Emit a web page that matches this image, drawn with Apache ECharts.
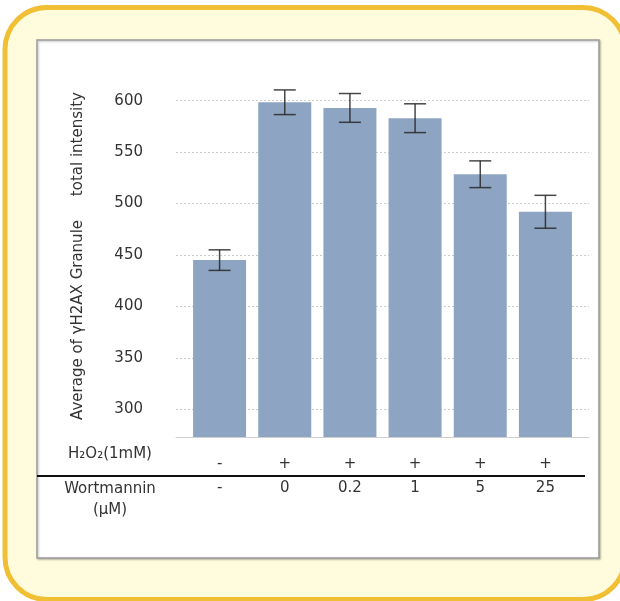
<!DOCTYPE html>
<html><head><meta charset="utf-8">
<script src="https://cdn.jsdelivr.net/npm/echarts@6/dist/echarts.min.js"></script>
<style>html,body{margin:0;padding:0;background:#fff}#c{width:620px;height:601px}</style>
</head><body><div id="c"></div>
<script>
const h2o2Labels = ['-', '+', '+', '+', '+', '+'];
const wortLabels = ['-', '0', '0.2', '1', '5', '25'];
const meanValues = [445, 598.5, 593, 583, 528.5, 492];
const errValues = [10, 12, 14, 14, 13, 16];
const yTicks = [300, 350, 400, 450, 500, 550, 600];
const yTitle = 'Average of \u03b3H2AX Granule     total intensity';

const FONT = 'DejaVu Sans';
const chart = echarts.init(document.getElementById('c'), null, {renderer: 'canvas'});
const cats = h2o2Labels.map((h, i) => h + '\n' + wortLabels[i]);
const errData = meanValues.map((m, i) => [i, m - errValues[i], m + errValues[i]]);

chart.setOption({
  animation: false,
  textStyle: {fontFamily: FONT},
  graphic: [
    {type: 'rect', z: -10, shape: {x: 5, y: 7.5, width: 620, height: 592, r: 42},
     style: {fill: '#FFFCDD', stroke: '#F0BF33', lineWidth: 5}},
    {type: 'rect', z: -9, shape: {x: 37, y: 40, width: 562, height: 518},
     style: {fill: '#ffffff', stroke: '#9c9c9c', lineWidth: 1.5, shadowBlur: 2, shadowOffsetX: 1, shadowOffsetY: 1, shadowColor: 'rgba(0,0,0,0.25)'}},
    {type: 'line', z: 5, shape: {x1: 37, y1: 476, x2: 585, y2: 476},
     style: {stroke: '#111', lineWidth: 2}},
    {type: 'text', z: 5, x: 110, y: 454,
     style: {text: 'H\u2082O\u2082(1mM)', font: '15px "DejaVu Sans"', fill: '#333', align: 'center', verticalAlign: 'middle'}},
    {type: 'text', z: 5, x: 110, y: 500,
     style: {text: 'Wortmannin\n(\u03bcM)', font: '15px "DejaVu Sans"', fill: '#333', align: 'center', verticalAlign: 'middle', lineHeight: 21}}
  ],
  grid: [
    {left: 176, right: 31, top: 75, height: 362},
    {left: 187, width: 391, top: 75, height: 362}
  ],
  xAxis: [
    {type: 'value', gridIndex: 0, min: 0, max: 1, show: true,
     axisLine: {show: true, onZero: false, lineStyle: {color: '#cfcfcf', width: 1}},
     axisTick: {show: false}, axisLabel: {show: false}, splitLine: {show: false}},
    {type: 'category', gridIndex: 1, data: cats,
     axisLine: {show: false}, axisTick: {show: false}, splitLine: {show: false},
     axisLabel: {margin: 15, fontSize: 15, color: '#333', lineHeight: 24, fontFamily: FONT, interval: 0}}
  ],
  yAxis: [
    {type: 'value', gridIndex: 0, min: 273, max: 625,
     name: yTitle, nameLocation: 'middle', nameGap: 90,
     nameTextStyle: {fontSize: 15, color: '#333', fontFamily: FONT},
     axisLine: {show: false},
     axisTick: {show: false, customValues: yTicks},
     axisLabel: {customValues: yTicks, margin: 33, fontSize: 15, color: '#333', fontFamily: FONT},
     splitLine: {show: true, lineStyle: {color: '#cccccc', type: [2, 2], width: 1}}},
    {type: 'value', gridIndex: 1, min: 273, max: 625, show: false, splitLine: {show: false}}
  ],
  series: [
    {type: 'bar', xAxisIndex: 1, yAxisIndex: 1, data: meanValues, barWidth: 53,
     itemStyle: {color: '#8DA4C2'}, z: 2},
    {type: 'custom', xAxisIndex: 1, yAxisIndex: 1, data: errData, z: 4,
     renderItem: function (params, api) {
       const x = api.value(0);
       const lo = api.coord([x, api.value(1)]);
       const hi = api.coord([x, api.value(2)]);
       const hw = 11;
       const st = {stroke: 'rgba(40,40,40,0.85)', lineWidth: 1.5};
       return {type: 'group', children: [
         {type: 'line', shape: {x1: hi[0], y1: hi[1], x2: lo[0], y2: lo[1]}, style: st},
         {type: 'line', shape: {x1: hi[0] - hw, y1: hi[1], x2: hi[0] + hw, y2: hi[1]}, style: st},
         {type: 'line', shape: {x1: lo[0] - hw, y1: lo[1], x2: lo[0] + hw, y2: lo[1]}, style: st}
       ]};
     }}
  ]
});
</script></body></html>
